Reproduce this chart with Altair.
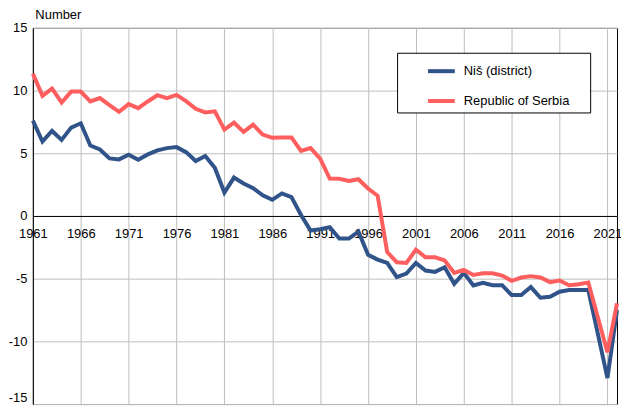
import altair as alt
import pandas as pd

years = list(range(1961, 2023))
nis = [7.6, 5.94, 6.78, 6.07, 7.05, 7.39, 5.62, 5.3, 4.59, 4.51,
       4.88, 4.49, 4.91, 5.23, 5.41, 5.49, 5.09, 4.38, 4.78, 3.85,
       1.87, 3.06, 2.59, 2.22, 1.64, 1.29, 1.8, 1.5, 0.08, -1.16,
       -1.06, -0.9, -1.8, -1.8, -1.25, -3.09, -3.48, -3.75, -4.88, -4.59,
       -3.75, -4.35, -4.46, -4.09, -5.41, -4.54, -5.54, -5.33, -5.52, -5.52,
       -6.31, -6.31, -5.67, -6.52, -6.44, -6.04, -5.91, -5.91, -5.91, -9.4,
       -12.93, -7.5]
serbia = [11.35, 9.58, 10.16, 9.05, 9.92, 9.92, 9.13, 9.4, 8.84, 8.31,
          8.92, 8.6, 9.13, 9.63, 9.4, 9.66, 9.16, 8.55, 8.26, 8.34,
          6.89, 7.44, 6.7, 7.28, 6.49, 6.23, 6.26, 6.26, 5.19, 5.41,
          4.57, 2.98, 2.96, 2.8, 2.93, 2.19, 1.61, -2.88, -3.69, -3.75,
          -2.69, -3.3, -3.3, -3.54, -4.54, -4.3, -4.7, -4.57, -4.57, -4.75,
          -5.17, -4.91, -4.8, -4.91, -5.28, -5.15, -5.52, -5.44, -5.3, -8.1,
          -10.87, -6.97]
series_names = ["Niš (district)", "Republic of Serbia"]
series_colors = ["#30548a", "#ff5e5e"]
x_ticks = list(range(1961, 2022, 5))
y_ticks = [-15, -10, -5, 0, 5, 10, 15]

df = pd.DataFrame({
    "year": years * 2,
    "value": nis + serbia,
    "series": [series_names[0]] * len(years) + [series_names[1]] * len(years),
})

W, H = 587, 378
FONT = "Liberation Sans"

xscale = alt.Scale(domain=[1961, 2022], nice=False, zero=False)
yscale = alt.Scale(domain=[-15, 15], nice=False)

y_axis = alt.Axis(values=y_ticks, grid=True, gridColor="#bdbdbd", gridWidth=1,
                  ticks=False, domain=True, domainColor="#000000",
                  labelExpr="'' + datum.value",
                  labelFont=FONT, labelFontSize=13, labelColor="#000000",
                  labelPadding=6,
                  labelBaseline={"condition": {"test": "datum.value == -15", "value": "bottom"},
                                 "value": "middle"},
                  title="Number", titleAngle=0, titleAlign="left",
                  titleBaseline="top", titleX=2, titleY=-19,
                  titleFont=FONT, titleFontSize=13, titleFontWeight="normal",
                  titleColor="#000000")

grid_layer = alt.Chart(df).mark_line(opacity=0).encode(
    x=alt.X("year:Q", scale=xscale,
            axis=alt.Axis(orient="bottom", values=x_ticks, grid=True,
                          gridColor="#bdbdbd", gridWidth=1,
                          labels=False, ticks=False, domain=False, title=None)),
    y=alt.Y("value:Q", scale=yscale, axis=y_axis),
)

lines = alt.Chart(df).mark_line(strokeWidth=4).encode(
    x=alt.X("year:Q", scale=xscale,
            axis=alt.Axis(orient="bottom", values=x_ticks, format="d", grid=False,
                          ticks=False, domain=True, domainColor="#000000",
                          offset=-H / 2,
                          labelFont=FONT, labelFontSize=13, labelColor="#000000",
                          labelPadding=12, labelFlush=False, labelOverlap=False,
                          title=None)),
    y=alt.Y("value:Q", scale=yscale, axis=y_axis),
    color=alt.Color("series:N",
                    scale=alt.Scale(domain=series_names, range=series_colors),
                    legend=alt.Legend(orient="none", legendX=366, legendY=25,
                                      title="\u00a0", titleOrient="right",
                                      titlePadding=18, titleFontSize=13,
                                      symbolType="stroke",
                                      symbolStrokeWidth=4, symbolSize=729,
                                      labelFont=FONT, labelFontSize=13,
                                      labelColor="#000000", labelOffset=7,
                                      padding=3, symbolOffset=26, rowPadding=6,
                                      strokeColor="#000000", fillColor="#ffffff")),
)

chart = alt.layer(grid_layer, lines).resolve_axis(x="independent").properties(
    width=W, height=H,
    autosize=alt.AutoSizeParams(type="none"),
    padding={"left": 25, "top": 19, "right": 4, "bottom": 2},
).configure(background="#ffffff").configure_view(stroke="#000000", strokeWidth=1)

chart.save("out.html", embed_options={"renderer": "svg", "actions": False})
